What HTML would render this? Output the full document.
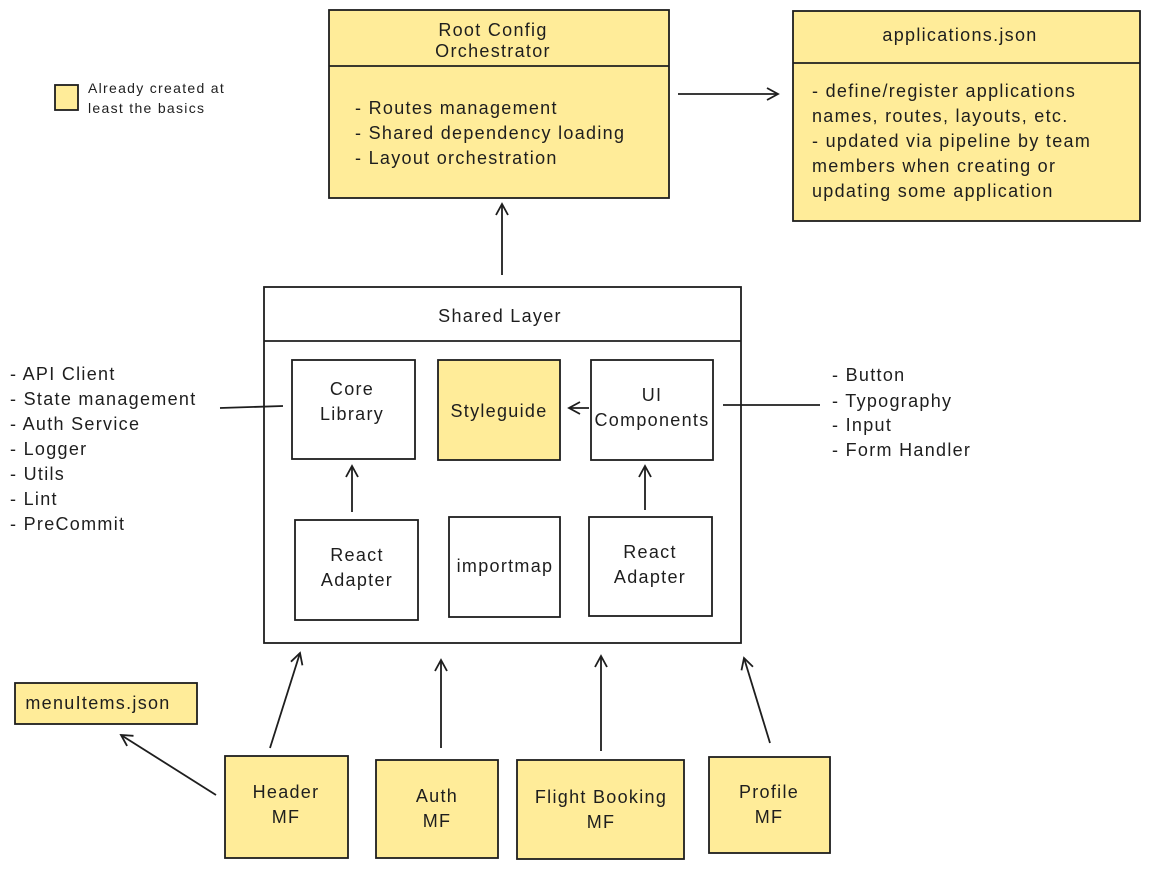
<!DOCTYPE html>
<html><head><meta charset="utf-8"><style>
body{margin:0;background:#fff;}
svg text{font-family:"Liberation Sans",sans-serif;fill:#1e1e1e;letter-spacing:1.3px;}
</style></head><body>
<svg width="1151" height="869" viewBox="0 0 1151 869" xmlns="http://www.w3.org/2000/svg">
<defs><marker id="a" markerWidth="14" markerHeight="14" refX="12" refY="7" orient="auto" markerUnits="userSpaceOnUse"><path d="M1,1 L12,7 L1,13" fill="none" stroke="#1e1e1e" stroke-width="1.8"/></marker></defs>
<g stroke="#1e1e1e" stroke-width="1.8" fill="none">
<rect x="55" y="85" width="23" height="25" fill="#ffec99"/>
<rect x="329" y="10" width="340" height="188" fill="#ffec99"/>
<line x1="329" y1="66" x2="669" y2="66"/>
<rect x="793" y="11" width="347" height="210" fill="#ffec99"/>
<line x1="793" y1="63" x2="1140" y2="63"/>
<line x1="678" y1="94" x2="778" y2="94" marker-end="url(#a)"/>
<line x1="502" y1="275" x2="502" y2="204" marker-end="url(#a)"/>
<rect x="264" y="287" width="477" height="356" fill="#fff"/>
<line x1="264" y1="341" x2="741" y2="341"/>
<rect x="292" y="360" width="123" height="99"/>
<rect x="438" y="360" width="122" height="100" fill="#ffec99"/>
<rect x="591" y="360" width="122" height="100"/>
<line x1="589" y1="408" x2="569" y2="408" marker-end="url(#a)"/>
<rect x="295" y="520" width="123" height="100"/>
<rect x="449" y="517" width="111" height="100"/>
<rect x="589" y="517" width="123" height="99"/>
<line x1="352" y1="512" x2="352" y2="466" marker-end="url(#a)"/>
<line x1="645" y1="510" x2="645" y2="466" marker-end="url(#a)"/>
<line x1="220" y1="408" x2="283" y2="406"/>
<line x1="723" y1="405" x2="820" y2="405"/>
<line x1="270" y1="748" x2="300" y2="653" marker-end="url(#a)"/>
<line x1="441" y1="748" x2="441" y2="660" marker-end="url(#a)"/>
<line x1="601" y1="751" x2="601" y2="656" marker-end="url(#a)"/>
<line x1="770" y1="743" x2="744" y2="658" marker-end="url(#a)"/>
<rect x="15" y="683" width="182" height="41" fill="#ffec99"/>
<line x1="216" y1="795" x2="121" y2="735" marker-end="url(#a)"/>
<rect x="225" y="756" width="123" height="102" fill="#ffec99"/>
<rect x="376" y="760" width="122" height="98" fill="#ffec99"/>
<rect x="517" y="760" width="167" height="99" fill="#ffec99"/>
<rect x="709" y="757" width="121" height="96" fill="#ffec99"/>
</g>
<g font-size="14" style="letter-spacing:1.8px"><text x="88" y="93">Already created at</text><text x="88" y="113">least the basics</text></g>
<g font-size="18" text-anchor="middle">
<text x="493" y="36">Root Config</text><text x="493" y="57">Orchestrator</text>
<text x="960" y="41">applications.json</text>
<text x="500" y="322">Shared Layer</text>
<text x="352" y="395">Core</text><text x="352" y="420">Library</text>
<text x="499" y="417">Styleguide</text>
<text x="652" y="401">UI</text><text x="652" y="426">Components</text>
<text x="357" y="561">React</text><text x="357" y="586">Adapter</text>
<text x="505" y="572">importmap</text>
<text x="650" y="558">React</text><text x="650" y="583">Adapter</text>
<text x="98" y="709">menuItems.json</text>
<text x="286" y="798">Header</text><text x="286" y="823">MF</text>
<text x="437" y="802">Auth</text><text x="437" y="827">MF</text>
<text x="601" y="803">Flight Booking</text><text x="601" y="828">MF</text>
<text x="769" y="798">Profile</text><text x="769" y="823">MF</text>
</g>
<g font-size="18">
<text x="355" y="114">- Routes management</text>
<text x="355" y="139">- Shared dependency loading</text>
<text x="355" y="164">- Layout orchestration</text>
<text x="812" y="97">- define/register applications</text>
<text x="812" y="122">names, routes, layouts, etc.</text>
<text x="812" y="147">- updated via pipeline by team</text>
<text x="812" y="172">members when creating or</text>
<text x="812" y="197">updating some application</text>
<text x="10" y="380">- API Client</text>
<text x="10" y="405">- State management</text>
<text x="10" y="430">- Auth Service</text>
<text x="10" y="455">- Logger</text>
<text x="10" y="480">- Utils</text>
<text x="10" y="505">- Lint</text>
<text x="10" y="530">- PreCommit</text>
<text x="832" y="381">- Button</text>
<text x="832" y="407">- Typography</text>
<text x="832" y="431">- Input</text>
<text x="832" y="456">- Form Handler</text>
</g>
</svg>
</body></html>
